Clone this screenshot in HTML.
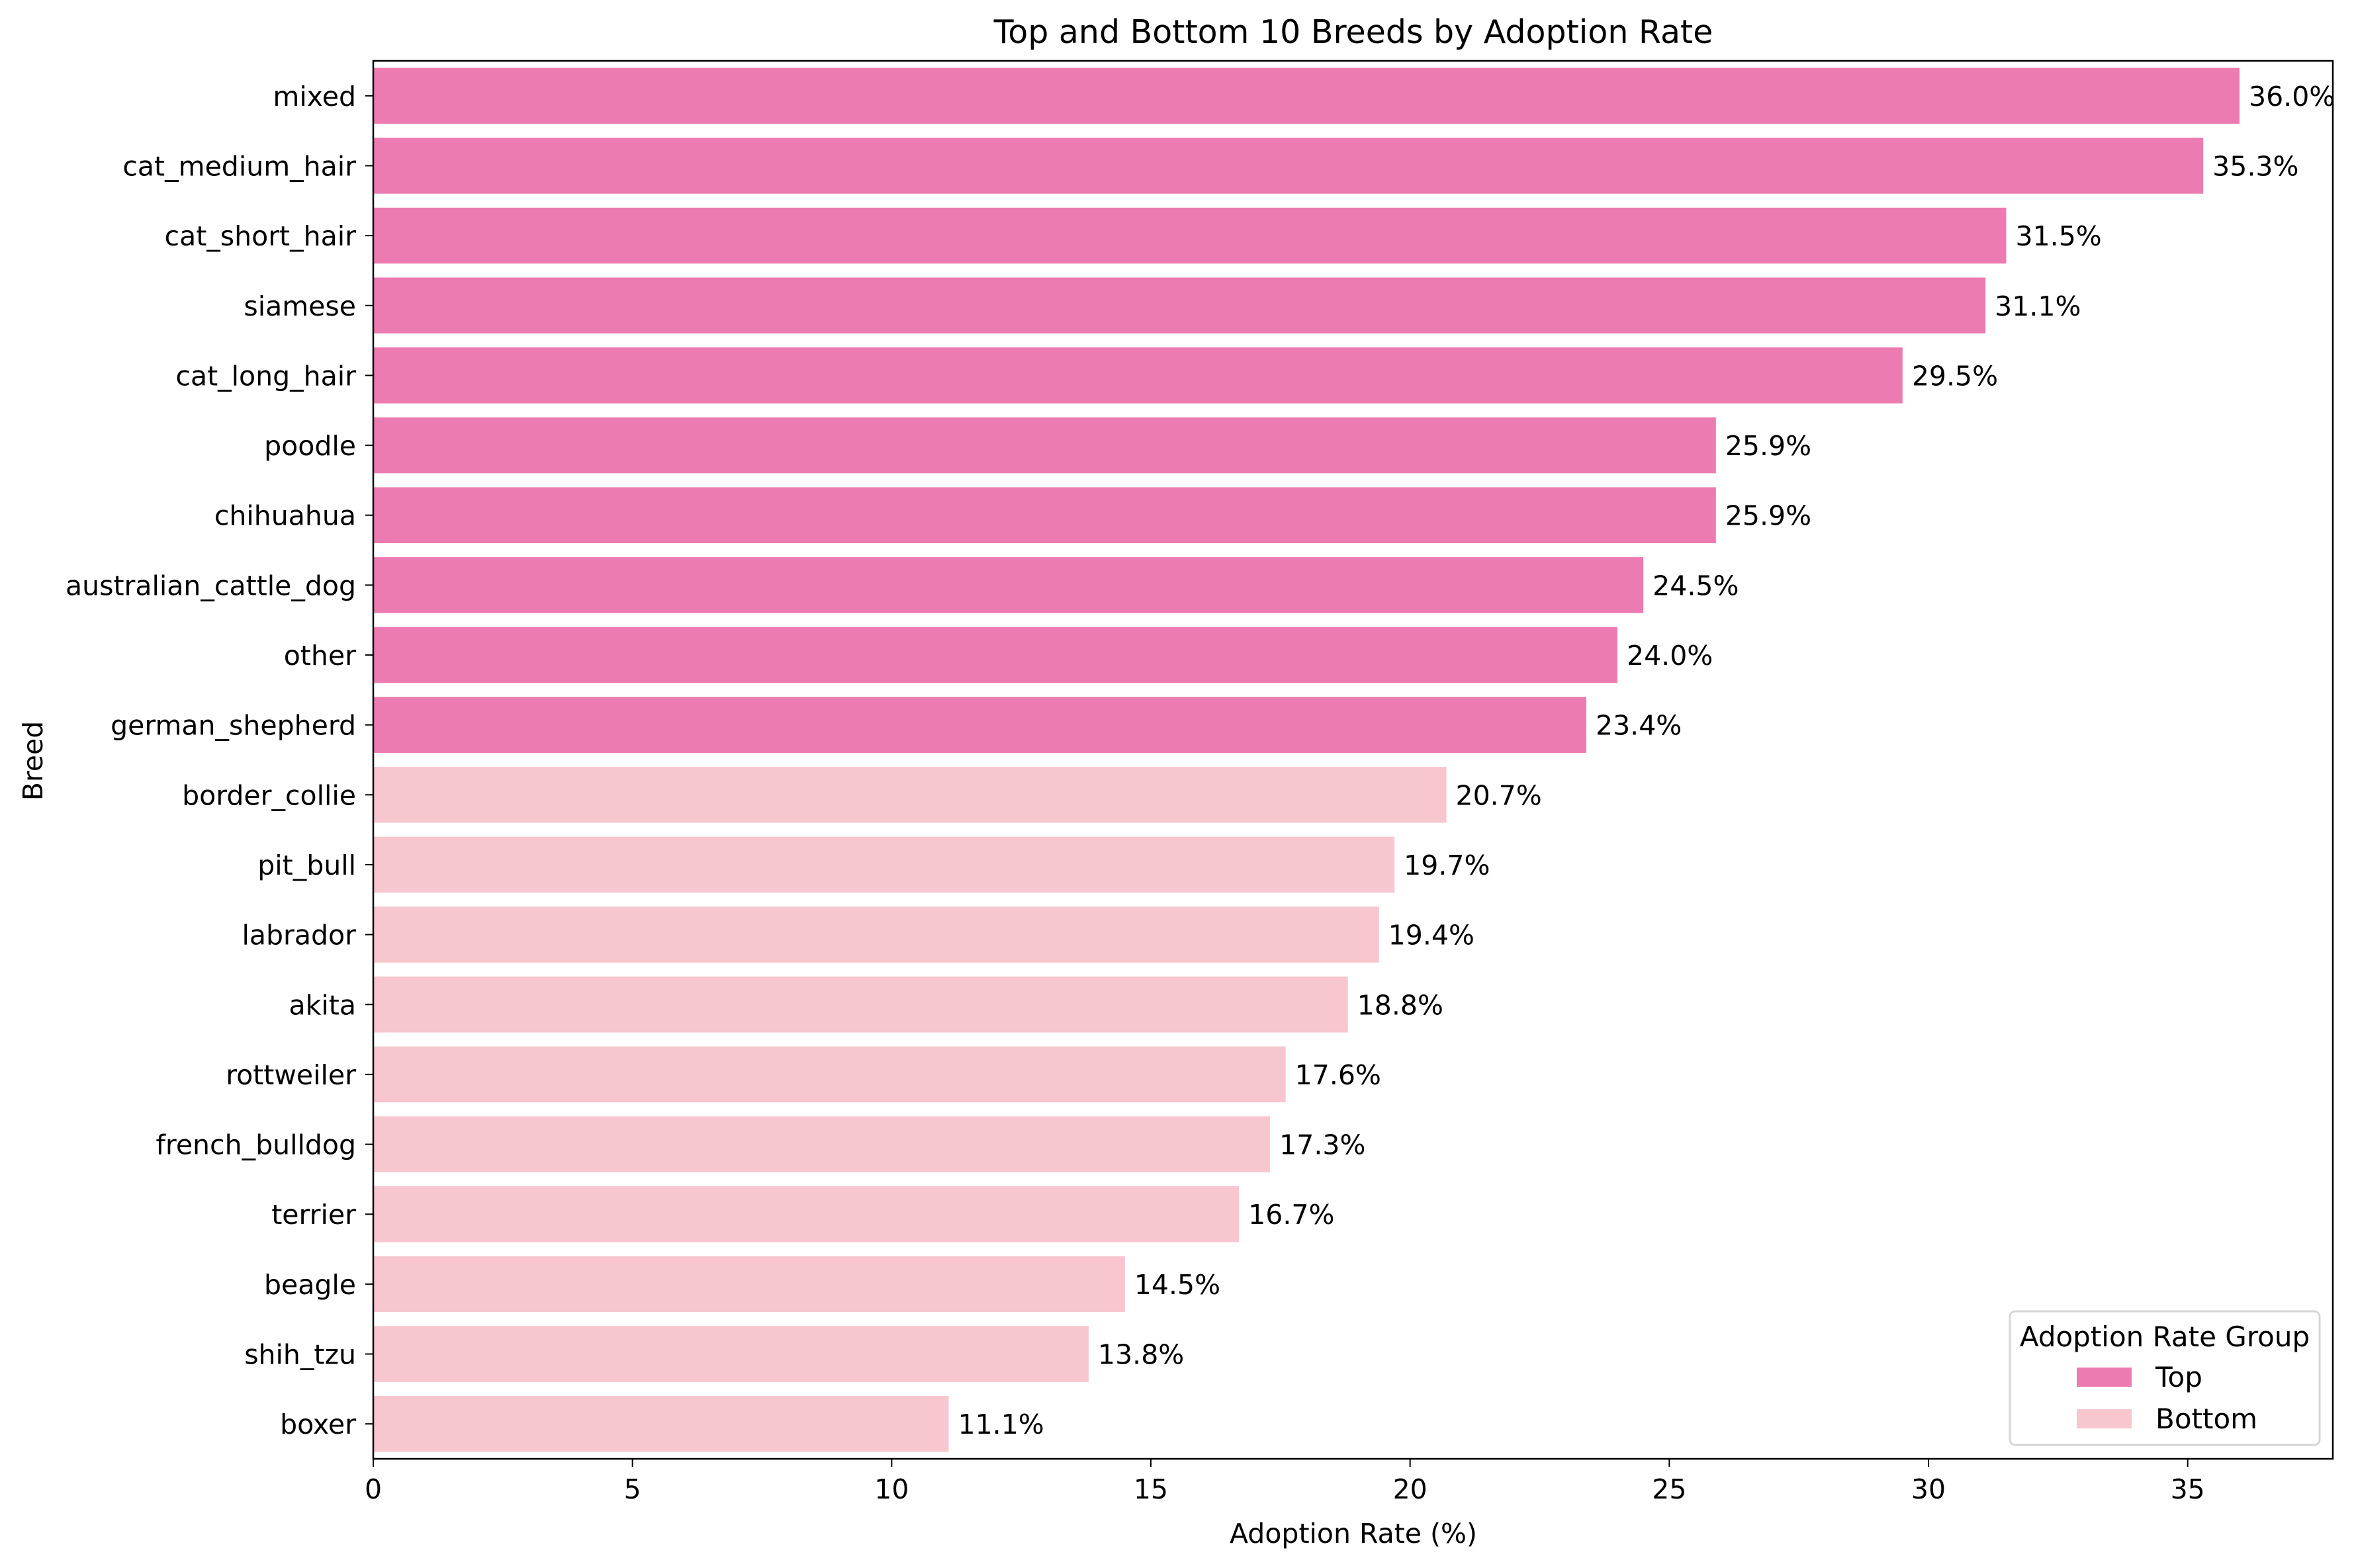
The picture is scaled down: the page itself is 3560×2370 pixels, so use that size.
<!DOCTYPE html>
<html><head><meta charset="utf-8"><style>
body{margin:0;background:#fff}
svg text{font-family:"DejaVu Sans","Liberation Sans",sans-serif;fill:#000}
</style></head><body>
<svg id="chart" width="3560" height="2365" viewBox="0 0 3560 2365" xmlns="http://www.w3.org/2000/svg">
<rect width="3560" height="2365" fill="#fff"/>
<text x="2045" y="65" font-size="49" text-anchor="middle">Top and Bottom 10 Breeds by Adoption Rate</text>
<text x="2045" y="2332" font-size="41" text-anchor="middle">Adoption Rate (%)</text>
<text transform="translate(64,1150) rotate(-90)" font-size="41" text-anchor="middle">Breed</text>
<g id="bars"></g><g id="axes"></g>
<g>
<rect x="3037" y="1982" width="468" height="202" rx="8" fill="#fff" stroke="#d6d6d6" stroke-width="3"/>
<text x="3271" y="2035" font-size="42" text-anchor="middle">Adoption Rate Group</text>
<rect x="3138" y="2067" width="83" height="29" fill="#ec7bb1"/>
<text x="3257" y="2096" font-size="42">Top</text>
<rect x="3138" y="2130" width="83" height="29" fill="#f7c6cf"/>
<text x="3257" y="2159" font-size="42">Bottom</text>
</g>
</svg>
<script>
const breeds=["mixed","cat_medium_hair","cat_short_hair","siamese","cat_long_hair","poodle","chihuahua","australian_cattle_dog","other","german_shepherd","border_collie","pit_bull","labrador","akita","rottweiler","french_bulldog","terrier","beagle","shih_tzu","boxer"];
const rates=[36.0,35.3,31.5,31.1,29.5,25.9,25.9,24.5,24.0,23.4,20.7,19.7,19.4,18.8,17.6,17.3,16.7,14.5,13.8,11.1];
const groups=["Top","Top","Top","Top","Top","Top","Top","Top","Top","Top","Bottom","Bottom","Bottom","Bottom","Bottom","Bottom","Bottom","Bottom","Bottom","Bottom"];
const xTicks=[0,5,10,15,20,25,30,35];
const NS="http://www.w3.org/2000/svg";
const L=564,R=3525,T=92,B=2205,XMAX=37.8;
const xs=v=>L+(v/XMAX)*(R-L);
const step=(B-T)/breeds.length;
const yc=i=>T+step*(i+0.5);
const colors={Top:"#ec7bb1",Bottom:"#f7c6cf"};
const bars=document.getElementById("bars"),axes=document.getElementById("axes");
function mk(tag,attrs,parent,txt){const e=document.createElementNS(NS,tag);for(const k in attrs)e.setAttribute(k,attrs[k]);if(txt!==undefined)e.textContent=txt;parent.appendChild(e);return e;}
breeds.forEach((b,i)=>{
  const h=step*0.8;
  const r=mk("rect",{x:xs(0),y:yc(i)-h/2,width:xs(rates[i])-xs(0),height:h,fill:colors[groups[i]]},bars);
  
  
  const t=mk("text",{x:xs(rates[i])+14,y:yc(i)+15,"font-size":41},bars,rates[i].toFixed(1)+"%");
  
  
  const tk=mk("line",{x1:L-12,x2:L,y1:yc(i),y2:yc(i),stroke:"#000","stroke-width":2},axes);
  
  
  const tl=mk("text",{x:L-26,y:yc(i)+15,"font-size":41,"text-anchor":"end"},axes,b);
  
  
});
xTicks.forEach(v=>{
  const tk=mk("line",{x1:xs(v),x2:xs(v),y1:B,y2:B+12,stroke:"#000","stroke-width":2},axes);
  
  
  const tl=mk("text",{x:xs(v),y:B+60,"font-size":41,"text-anchor":"middle"},axes,String(v));
  
  
});
const fr=mk("rect",{x:L,y:T,width:R-L,height:B-T,fill:"none",stroke:"#000","stroke-width":2.5},axes);


</script>
</body></html>
